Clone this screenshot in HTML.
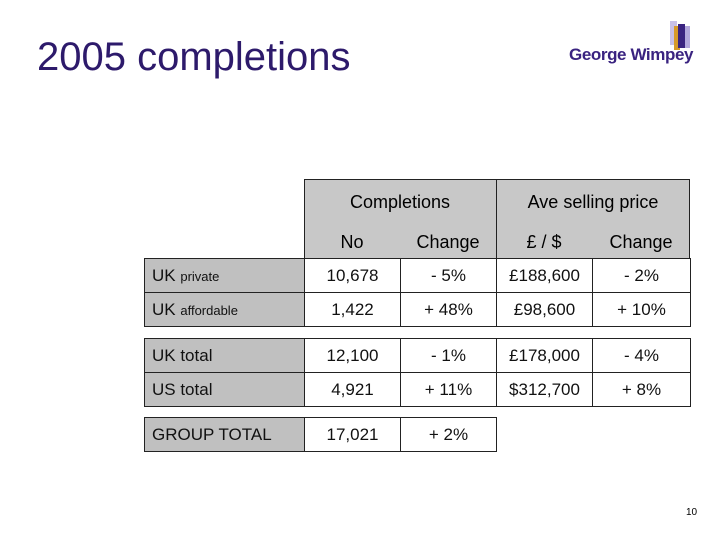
<!DOCTYPE html>
<html><head><meta charset="utf-8"><style>
body{margin:0;width:720px;height:540px;background:#fff;font-family:"Liberation Sans",Arial,sans-serif;position:relative;overflow:hidden}
.abs{position:absolute}
.cell{position:absolute;box-sizing:border-box;border:1px solid #222;display:flex;align-items:center;justify-content:center;font-size:17px;color:#111;background:#fff;white-space:pre}
.lab{background:#c0c0c0;justify-content:flex-start;padding-left:7px}
.sm{font-size:13px}
</style></head><body>
<div class="abs" style="left:37px;top:35px;font-size:40px;color:#2d1a6b">2005 completions</div>
<div class="abs" style="left:568px;top:18px;width:130px;height:50px">
<svg width="130" height="50"><rect x="102" y="3" width="7" height="24" fill="#c8c0e8"/><rect x="106" y="8" width="6" height="24" fill="#d79a2a"/><rect x="110" y="6" width="7" height="24" fill="#3a2380"/><rect x="117" y="8" width="5" height="22" fill="#b3a8dc"/></svg>
<div class="abs" style="left:1px;top:27px;font-size:17px;font-weight:bold;color:#3a2380;white-space:nowrap;letter-spacing:-0.4px">George Wimpey</div>
</div>
<div class="abs" style="left:304px;top:179px;width:386px;height:80px;background:#c8c8c8;border:1px solid #222;box-sizing:border-box"></div>
<div class="abs" style="left:496px;top:179px;width:1px;height:80px;background:#222"></div>
<div class="abs" style="left:304px;top:192px;width:192px;text-align:center;font-size:18px">Completions</div>
<div class="abs" style="left:496px;top:192px;width:194px;text-align:center;font-size:18px">Ave selling price</div>
<div class="abs" style="left:304px;top:232px;width:96px;text-align:center;font-size:18px">No</div>
<div class="abs" style="left:400px;top:232px;width:96px;text-align:center;font-size:18px">Change</div>
<div class="abs" style="left:496px;top:232px;width:96px;text-align:center;font-size:18px">£ / $</div>
<div class="abs" style="left:592px;top:232px;width:98px;text-align:center;font-size:18px">Change</div>
<div id="t"></div>
<div class="abs" style="left:686px;top:507px;font-size:10px">10</div>
<script>
const rows=[["UK ","private","10,678","- 5%","£188,600","- 2%",258],
["UK ","affordable","1,422","+ 48%","£98,600","+ 10%",292],
["UK total","","12,100","- 1%","£178,000","- 4%",338],
["US total","","4,921","+ 11%","$312,700","+ 8%",372],
["GROUP TOTAL","","17,021","+ 2%",null,null,417]];
const xs=[144,304,400,496,592,690];
const t=document.getElementById('t');
rows.forEach(r=>{
 const y=r[6],h=35;
 for(let c=0;c<5;c++){
  const v=c==0?null:r[c+1];
  if(c>0&&v==null)continue;
  const d=document.createElement('div');
  d.className='cell'+(c==0?' lab':'');
  
  
  d.style.left=xs[c]+'px';d.style.top=y+'px';d.style.width=(xs[c+1]-xs[c]+1)+'px';d.style.height=h+'px';
  if(c==0){d.innerHTML='<span>'+r[0]+(r[1]?'<span class="sm">'+r[1]+'</span>':'')+'</span>';}else d.textContent=v;
  t.appendChild(d);
 }
});
</script>
</body></html>
